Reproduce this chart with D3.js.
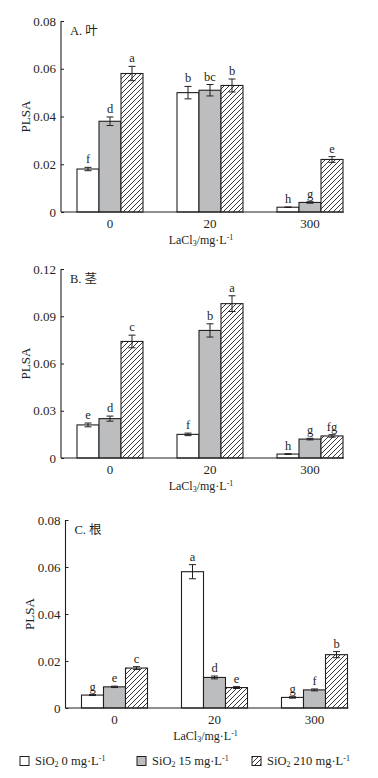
<!DOCTYPE html>
<html>
<head>
<meta charset="utf-8">
<script src="https://cdnjs.cloudflare.com/ajax/libs/d3/7.8.5/d3.min.js"></script>
<style>
  body { margin: 0; background: #fff; }
  svg { display: block; }
</style>
</head>
<body>
<div id="chart"></div>
<script>
// categories
var groups = ["0", "20", "300"];
var seriesNames = ["SiO\u2082 0 mg\u00b7L\u207b\u00b9", "SiO\u2082 15 mg\u00b7L\u207b\u00b9", "SiO\u2082 210 mg\u00b7L\u207b\u00b9"];

// A. leaf  (rows = LaCl3 groups, cols = SiO2 series)
var leafMean = [[0.018, 0.038, 0.058], [0.050, 0.051, 0.053], [0.002, 0.004, 0.022]];
var leafErr = [[0.0007, 0.0018, 0.003], [0.0026, 0.0024, 0.0027], [0.0001, 0.0003, 0.0012]];
var leafLetters = [["f", "d", "a"], ["b", "bc", "b"], ["h", "g", "e"]];

// B. stem
var stemMean = [[0.021, 0.025, 0.074], [0.015, 0.081, 0.098], [0.0025, 0.012, 0.014]];
var stemErr = [[0.0012, 0.0016, 0.004], [0.0008, 0.0042, 0.005], [0.0002, 0.0005, 0.0008]];
var stemLetters = [["e", "d", "c"], ["f", "b", "a"], ["h", "g", "fg"]];

// C. root
var rootMean = [[0.0055, 0.009, 0.017], [0.058, 0.013, 0.0087], [0.0045, 0.0077, 0.0227]];
var rootErr = [[0.0002, 0.0003, 0.0006], [0.003, 0.0006, 0.0004], [0.0003, 0.0004, 0.0013]];
var rootLetters = [["g", "e", "c"], ["a", "d", "e"], ["g", "f", "b"]];

// y tick labels
var ticksA = [0, 0.02, 0.04, 0.06, 0.08];
var ticksB = [0, 0.03, 0.06, 0.09, 0.12];
var ticksC = [0, 0.02, 0.04, 0.06, 0.08];
var tickFmt = function(d) { return d === 0 ? "0" : d3.format(".2f")(d); };

var width = 378, height = 778;
var font = "'Liberation Serif', 'Times New Roman', serif";
var cjk = "'Liberation Serif', 'Noto Sans CJK SC', serif";
var ink = "#231f20";
var grayFill = "#bcbdbf";

var svg = d3.select("#chart").append("svg")
  .attr("width", width).attr("height", height);

// hatch pattern
var defs = svg.append("defs");
var pat = defs.append("pattern")
  .attr("id", "hatch")
  .attr("patternUnits", "userSpaceOnUse")
  .attr("width", 5).attr("height", 5);
pat.append("rect").attr("width", 5).attr("height", 5).attr("fill", "#fff");
pat.append("path")
  .attr("d", "M0,5 L5,0 M-1,1 L1,-1 M4,6 L6,4")
  .attr("stroke", ink).attr("stroke-width", 0.9);

var fills = ["#fff", grayFill, "url(#hatch)"];

var panels = [
  { label: "A. \u53f6", mean: leafMean, err: leafErr, letters: leafLetters, ticks: ticksA,
    ax: 61, top: 21, bottom: 212 },
  { label: "B. \u830e", mean: stemMean, err: stemErr, letters: stemLetters, ticks: ticksB,
    ax: 61, top: 269, bottom: 458 },
  { label: "C. \u6839", mean: rootMean, err: rootErr, letters: rootLetters, ticks: ticksC,
    ax: 65.5, top: 520, bottom: 708 }
];

panels.forEach(function(p) {
  var g = svg.append("g");
  var ymax = p.ticks[p.ticks.length - 1];

  var y = d3.scaleLinear().domain([0, ymax]).range([p.bottom, p.top]);
  var x0 = d3.scaleBand().domain(groups)
    .range([p.ax - 1, p.ax + 299])
    .paddingInner(0.34).paddingOuter(0.17);
  var x1 = d3.scaleBand().domain(d3.range(3)).range([0, x0.bandwidth()]);

  // y axis
  var yAxis = d3.axisRight(y).tickValues(p.ticks).tickSize(3).tickFormat("");
  var ya = g.append("g").attr("transform", "translate(" + p.ax + ",0)").call(yAxis);
  ya.select(".domain").attr("stroke", ink).attr("stroke-width", 1.1)
    .attr("d", "M0," + p.top + "V" + p.bottom);
  ya.selectAll(".tick line").attr("stroke", ink).attr("stroke-width", 1);

  g.selectAll("text.ytick").data(p.ticks).enter().append("text")
    .attr("x", p.ax - 5).attr("y", function(d) { return y(d); })
    .attr("dy", "0.35em").attr("text-anchor", "end")
    .style("font-family", font).style("font-size", "13px").attr("fill", ink)
    .text(tickFmt);

  // bars
  groups.forEach(function(grp, gi) {
    p.mean[gi].forEach(function(v, si) {
      var bx = x0(grp) + x1(si);
      g.append("rect")
        .attr("x", bx).attr("y", y(v))
        .attr("width", x1.bandwidth()).attr("height", y(0) - y(v))
        .attr("fill", fills[si]).attr("stroke", ink).attr("stroke-width", 1.1);

      var cx = bx + x1.bandwidth() / 2;
      var e = p.err[gi][si];
      var yt = y(v + e), yb = y(v - e);
      g.append("path")
        .attr("d", "M" + cx + "," + yt + "V" + yb +
          "M" + (cx - 3.5) + "," + yt + "H" + (cx + 3.5) +
          "M" + (cx - 3.5) + "," + yb + "H" + (cx + 3.5))
        .attr("stroke", ink).attr("stroke-width", 1).attr("fill", "none");

      g.append("text")
        .attr("x", cx).attr("y", yt - 4)
        .attr("text-anchor", "middle")
        .style("font-family", font).style("font-size", "12.5px").attr("fill", ink)
        .text(p.letters[gi][si]);
    });
  });

  // x baseline
  var lastEnd = x0(groups[groups.length - 1]) + x0.bandwidth();
  g.append("line")
    .attr("x1", p.ax).attr("x2", lastEnd + 1)
    .attr("y1", p.bottom).attr("y2", p.bottom)
    .attr("stroke", ink).attr("stroke-width", 1.1);

  // x tick labels
  g.selectAll("text.xtick").data(groups).enter().append("text")
    .attr("x", function(d) { return x0(d) + x0.bandwidth() / 2; })
    .attr("y", p.bottom + 16)
    .attr("text-anchor", "middle")
    .style("font-family", font).style("font-size", "13px").attr("fill", ink)
    .text(function(d) { return d; });

  // x title
  var xt = g.append("text")
    .attr("x", p.ax + 140).attr("y", p.bottom + 32)
    .attr("text-anchor", "middle")
    .style("font-family", font).style("font-size", "12px").attr("fill", ink);
  xt.append("tspan").text("LaCl");
  xt.append("tspan").attr("font-size", "8px").attr("dy", 2).text("3");
  xt.append("tspan").attr("dy", -2).text("/mg\u00b7L");
  xt.append("tspan").attr("font-size", "8px").attr("dy", -4).text("-1");

  // y title
  g.append("text")
    .attr("transform", "translate(" + (p.ax - 36) + "," + ((p.top + p.bottom) / 2) + ") rotate(-90)")
    .attr("text-anchor", "middle").attr("dy", "0.35em")
    .style("font-family", font).style("font-size", "13px").attr("fill", ink)
    .text("PLSA");

  // panel label
  g.append("text")
    .attr("x", p.ax + 9).attr("y", p.top + 14)
    .style("font-family", cjk).style("font-size", "12.5px").attr("fill", ink)
    .text(p.label);
});

// legend
var legendX = [20, 137, 252];
var legendY = 761;
var lg = svg.append("g");
seriesNames.forEach(function(s, i) {
  lg.append("rect")
    .attr("x", legendX[i]).attr("y", legendY - 4.5)
    .attr("width", 9).attr("height", 9)
    .attr("fill", fills[i]).attr("stroke", ink).attr("stroke-width", 1);
  var t = lg.append("text")
    .attr("x", legendX[i] + 15).attr("y", legendY).attr("dy", "0.35em")
    .style("font-family", font).style("font-size", "12.5px").attr("fill", ink);
  t.append("tspan").text("SiO");
  t.append("tspan").attr("font-size", "8px").attr("dy", 2).text("2");
  t.append("tspan").attr("dy", -2).text(s.replace("SiO\u2082", "").replace("\u207b\u00b9", ""));
  t.append("tspan").attr("font-size", "8px").attr("dy", -4).text("-1");
});
</script>
</body>
</html>
